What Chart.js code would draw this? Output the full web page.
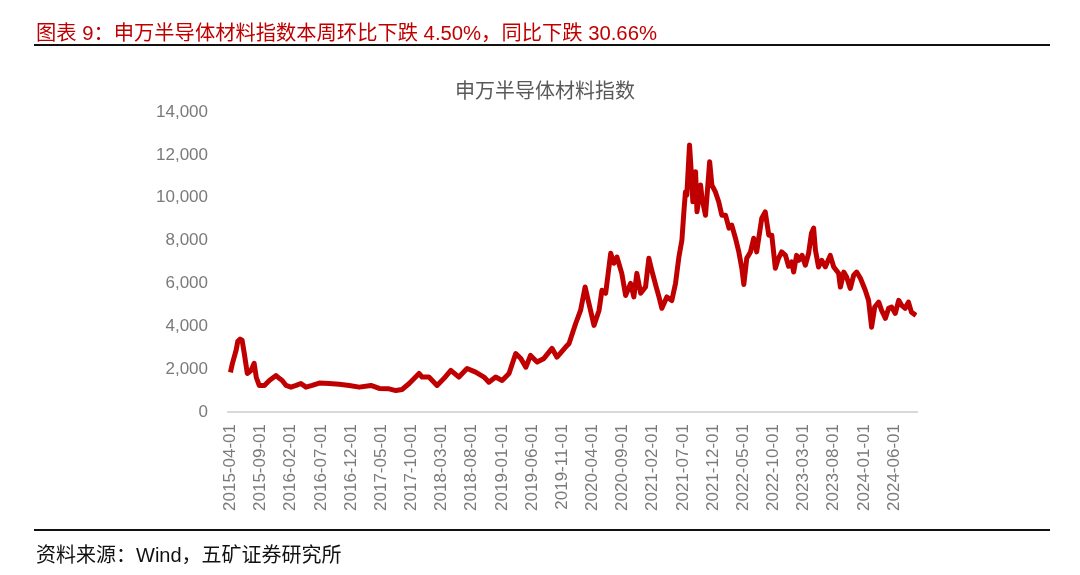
<!DOCTYPE html>
<html>
<head>
<meta charset="utf-8">
<script src="https://cdn.jsdelivr.net/npm/chart.js@4/dist/chart.umd.min.js"></script>
<style>
  html, body { margin: 0; padding: 0; background: #fff; }
  #page { position: relative; width: 1080px; height: 575px; overflow: hidden; }
  #head { position: absolute; left: 36px; top: 16px; font: 20.3px "Liberation Sans", "Noto Sans CJK SC", sans-serif; color: #c00000; white-space: nowrap; }
  #title { position: absolute; left: 345px; width: 400px; top: 75px; text-align: center; font: 20px "Liberation Sans", "Noto Sans CJK SC", sans-serif; color: #595959; }
  .rule { position: absolute; left: 34px; width: 1016px; height: 2px; background: #111; }
  #src { position: absolute; left: 36px; top: 539px; font: 20px "Liberation Sans", "Noto Sans CJK SC", sans-serif; color: #111; white-space: nowrap; }
  #wrap { position: absolute; left: 0; top: 0; width: 1080px; height: 575px; }
</style>
</head>
<body>
<div id="page">
  <div id="wrap"><canvas id="myChart"></canvas></div>
  <div id="head">图表 9：申万半导体材料指数本周环比下跌 4.50%，同比下跌 30.66%</div>
  <div id="title">申万半导体材料指数</div>
  <div class="rule" style="top:44px"></div>
  <div class="rule" style="top:529px"></div>
  <div id="src">资料来源：Wind，五矿证券研究所</div>
</div>
<script>
// data
var dates = [
  '2015-04-01','2015-04-11','2015-04-29','2015-05-08','2015-05-20','2015-05-30','2015-06-10','2015-06-25',
  '2015-07-14','2015-07-30','2015-08-10','2015-08-25','2015-09-20','2015-10-15','2015-11-18','2015-12-04',
  '2015-12-19','2016-01-08','2016-02-02','2016-02-27','2016-03-22','2016-04-17','2016-05-18','2016-06-23',
  '2016-08-12','2016-10-02','2016-11-22','2017-01-12','2017-03-10','2017-04-21','2017-06-10','2017-07-14',
  '2017-08-15','2017-09-20','2017-11-09','2017-11-24','2017-12-29','2018-02-08','2018-03-14','2018-04-17',
  '2018-05-28','2018-07-08','2018-08-21','2018-10-02','2018-10-27','2018-11-30','2019-01-02','2019-02-06',
  '2019-03-10','2019-04-05','2019-04-30','2019-05-24','2019-06-26','2019-07-31','2019-09-10','2019-10-05',
  '2019-11-18','2019-12-05','2020-01-08','2020-02-02','2020-02-24','2020-03-14','2020-04-09','2020-05-04',
  '2020-05-19','2020-06-07','2020-07-02','2020-07-18','2020-08-03','2020-08-28','2020-09-16','2020-10-11',
  '2020-10-28','2020-11-12','2020-12-01','2020-12-26','2021-01-12','2021-01-27','2021-02-15','2021-03-02',
  '2021-03-17','2021-04-11','2021-05-06','2021-05-25','2021-06-11','2021-06-26','2021-07-06','2021-07-14',
  '2021-07-21','2021-08-04','2021-08-14','2021-08-21','2021-09-04','2021-09-11','2021-09-29','2021-10-06',
  '2021-10-24','2021-10-31','2021-11-14','2021-11-25','2021-12-13','2021-12-30','2022-01-15','2022-02-03',
  '2022-02-19','2022-03-04','2022-03-23','2022-04-09','2022-04-24','2022-05-04','2022-05-19','2022-06-07',
  '2022-06-23','2022-07-08','2022-08-03','2022-08-21','2022-09-08','2022-09-23','2022-10-11','2022-10-27',
  '2022-11-12','2022-12-01','2022-12-17','2023-01-02','2023-01-12','2023-01-27','2023-02-07','2023-02-22',
  '2023-03-10','2023-03-27','2023-04-10','2023-04-21','2023-04-30','2023-05-16','2023-06-01','2023-06-19',
  '2023-07-14','2023-08-01','2023-08-26','2023-09-04','2023-09-21','2023-10-05','2023-10-24','2023-11-10',
  '2023-11-25','2023-12-14','2024-01-08','2024-01-25','2024-02-09','2024-02-24','2024-03-15','2024-03-30',
  '2024-04-18','2024-05-04','2024-05-19','2024-06-07','2024-06-24','2024-07-09','2024-07-27','2024-08-13',
  '2024-08-28','2024-09-20'
];
var indexValues = [
  1850, 2270, 2870, 3300, 3400, 3350, 2730, 1800,
  1940, 2270, 1610, 1240, 1240, 1470, 1700, 1570,
  1470, 1240, 1160, 1240, 1330, 1160, 1240, 1350,
  1330, 1290, 1240, 1160, 1240, 1100, 1080, 1000,
  1050, 1330, 1800, 1630, 1630, 1240, 1570, 1940,
  1630, 2030, 1860, 1630, 1390, 1630, 1470, 1800,
  2730, 2500, 2090, 2640, 2330, 2500, 2970, 2560,
  3030, 3200, 4130, 4740, 5830, 5070, 4040, 4740,
  5680, 5540, 7410, 6940, 7230, 6470, 5440, 6000,
  5370, 6470, 5540, 5830, 7170, 6610, 5910, 5370,
  4840, 5370, 5200, 6000, 7230, 8020, 9340, 10270,
  10120, 12460, 11050, 9810, 11210, 9340, 10590, 9980,
  9180, 9980, 11680, 10590, 10270, 9810, 9180, 9180,
  8580, 8720, 8110, 7470, 6710, 5950, 7170, 7470,
  8110, 7470, 9040, 9340, 8250, 8250, 6710, 7170,
  7470, 7310, 6800, 7000, 6530, 7310, 7080, 7310,
  6850, 7410, 8340, 8580, 7550, 6770, 7080, 6770,
  7310, 6770, 6470, 5830, 6530, 6300, 5770, 6380,
  6530, 6240, 5680, 5210, 3960, 4900, 5130, 4740,
  4370, 4840, 4900, 4600, 5210, 4980, 4840, 5130,
  4660, 4510
];
var tickLabels = [
  '2015-04-01','2015-09-01','2016-02-01','2016-07-01','2016-12-01','2017-05-01','2017-10-01','2018-03-01',
  '2018-08-01','2019-01-01','2019-06-01','2019-11-01','2020-04-01','2020-09-01','2021-02-01','2021-07-01',
  '2021-12-01','2022-05-01','2022-10-01','2023-03-01','2023-08-01','2024-01-01','2024-06-01'
];
var yTicks = [0, 2000, 4000, 6000, 8000, 10000, 12000, 14000];

// months since 2015-04-01
function monthOffset(s) {
    var p = s.split('-').map(Number);
    var dim = new Date(p[0], p[1], 0).getDate();
    return (p[0] - 2015) * 12 + (p[1] - 4) + (p[2] - 1) / dim;
}

var points = dates.map(function (d, i) { return { x: monthOffset(d), y: indexValues[i] }; });
var tickPos = tickLabels.map(monthOffset);

var ctx = document.getElementById('myChart').getContext('2d');
var chart = new Chart(ctx, {
    type: 'line',
    data: {
        datasets: [{
            label: '申万半导体材料指数',
            data: points,
            borderColor: '#c00000',
            borderWidth: 5,
            pointRadius: 0,
            tension: 0,
            borderJoinStyle: 'round'
        }]
    },
    options: {
        responsive: true,
        maintainAspectRatio: false,
        animation: false,
        layout: { padding: { left: 0, right: 163, top: 112, bottom: 53 } },
        plugins: {
            legend: { display: false },
            tooltip: { enabled: false }
        },
        scales: {
            x: {
                type: 'linear',
                min: -0.4,
                max: 113.8,
                grid: { display: false, drawTicks: false },
                border: { display: true, color: '#d9d9d9', width: 2 },
                afterBuildTicks: function (scale) {
                    scale.ticks = tickPos.map(function (v) { return { value: v }; });
                },
                afterFit: function (scale) { scale.height = 110; },
                ticks: {
                    autoSkip: false,
                    minRotation: 90,
                    maxRotation: 90,
                    padding: 12,
                    color: '#7a7a7a',
                    font: { family: '"Liberation Sans", sans-serif', size: 17 },
                    callback: function (v, i) { return tickLabels[i]; }
                }
            },
            y: {
                min: 0,
                max: 14000,
                grid: { display: false, drawTicks: false },
                border: { display: false },
                afterBuildTicks: function (scale) {
                    scale.ticks = yTicks.map(function (v) { return { value: v }; });
                },
                afterFit: function (scale) { scale.width = 228; },
                ticks: {
                    padding: 20,
                    color: '#7a7a7a',
                    font: { family: '"Liberation Sans", sans-serif', size: 17 },
                    callback: function (v) { return v.toLocaleString('en-US'); }
                }
            }
        }
    }
});
</script>
</body>
</html>
